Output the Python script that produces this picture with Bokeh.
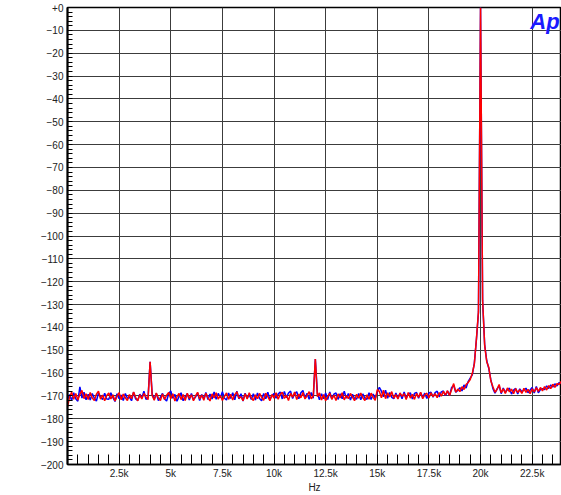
from bokeh.plotting import figure
from bokeh.models import Range1d, FixedTicker, Label
from bokeh.embed import file_html
from bokeh.resources import INLINE
import numpy as np

# FFT bin centres (Hz), 100 Hz spacing
freq_start, freq_stop, freq_step = 0, 24000, 100

red_db = [
    -174.8, -170.6, -168.4, -171.5, -168.9, -171.8, -169.3, -167.6, -171.2, -169.0,
    -171.6, -168.5, -170.9, -172.0, -169.2, -167.9, -171.4, -169.6, -172.1, -169.8,
    -168.7, -171.3, -169.5, -172.2, -170.1, -168.6, -171.7, -169.2, -170.8, -172.0,
    -169.4, -171.2, -168.3, -170.6, -172.1, -169.5, -171.3, -168.9, -170.4, -171.6,
    -155.0, -169.8, -171.9, -168.7, -170.9, -172.0, -169.1, -171.5, -169.7, -168.5,
    -171.2, -169.0, -172.2, -170.3, -168.9, -171.6, -169.4, -172.0, -168.8, -171.1,
    -169.5, -172.1, -170.0, -168.4, -171.3, -169.6, -171.9, -168.8, -170.7, -172.2,
    -169.1, -170.9, -168.6, -171.4, -169.8, -172.0, -170.2, -168.7, -171.5, -169.3,
    -171.8, -169.4, -168.2, -171.0, -170.4, -172.1, -169.0, -171.3, -168.6, -170.8,
    -172.0, -169.5, -171.2, -168.9, -170.6, -171.9, -168.8, -170.3, -172.1, -169.4,
    -170.9, -168.6, -171.4, -169.3, -168.4, -171.1, -169.7, -172.0, -168.9, -170.5,
    -168.3, -171.6, -169.2, -170.8, -168.5, -171.3, -169.9, -168.1, -171.2, -170.0,
    -153.8, -170.3, -168.7, -171.8, -169.4, -172.1, -170.2, -168.8, -171.5, -169.6,
    -172.0, -169.1, -170.9, -168.6, -171.7, -169.8, -171.2, -168.9, -170.5, -172.1,
    -169.3, -171.0, -168.7, -170.8, -172.0, -169.5, -171.4, -168.8, -170.6, -171.9,
    -167.2, -168.0, -170.8, -167.5, -171.2, -168.6, -170.4, -168.1, -171.0, -169.4,
    -171.3, -168.7, -170.2, -169.0, -171.6, -168.5, -170.9, -169.3, -171.5, -168.9,
    -170.6, -168.4, -171.2, -169.5, -168.8, -170.9, -168.6, -170.3, -169.0, -170.8,
    -168.5, -170.1, -168.0, -169.6, -167.7, -169.8, -167.2, -164.6, -168.3, -167.0,
    -168.1, -166.0, -167.2, -165.0, -164.1, -162.8, -160.2, -156.0, -145.0, -133.0,
    0.0, -128.0, -148.0, -155.0, -157.5, -163.5, -166.0, -168.4, -167.1, -165.0,
    -168.6, -166.9, -168.9, -166.5, -168.2, -167.0, -169.0, -166.8, -168.5, -167.3,
    -168.9, -166.7, -168.4, -167.1, -169.0, -166.9, -168.2, -166.4, -168.0, -166.3,
    -167.8, -165.9, -167.4, -165.5, -166.8, -164.9, -166.2, -164.6, -165.0, -163.8,
    -163.5,
]

blue_db = [
    -171.5, -169.4, -172.0, -168.6, -171.2, -172.3, -166.0, -170.9, -168.4, -171.7,
    -169.3, -171.8, -168.9, -171.0, -172.2, -168.7, -170.5, -171.6, -168.8, -171.3,
    -171.5, -168.6, -170.7, -172.4, -169.0, -171.2, -169.6, -172.0, -168.9, -171.0,
    -170.5, -172.1, -168.4, -171.3, -172.0, -169.2, -170.9, -167.9, -171.5, -170.8,
    -155.0, -169.2, -171.4, -168.8, -172.0, -170.6, -168.9, -171.3, -172.2, -169.0,
    -167.8, -171.0, -169.3, -172.3, -170.2, -168.6, -172.1, -170.4, -169.0, -171.8,
    -168.9, -171.6, -170.5, -168.7, -172.0, -169.4, -171.2, -168.5, -171.6, -169.2,
    -171.3, -168.3, -171.5, -168.9, -170.8, -168.2, -171.0, -171.8, -168.7, -171.1,
    -168.6, -171.7, -167.9, -171.3, -169.0, -172.2, -168.8, -171.0, -169.4, -171.5,
    -169.0, -171.8, -168.7, -171.1, -172.1, -168.9, -171.2, -168.4, -171.6, -169.8,
    -168.9, -171.0, -169.2, -168.3, -171.3, -168.0, -170.8, -168.7, -167.9, -171.1,
    -169.0, -168.2, -171.2, -168.6, -167.6, -170.9, -168.8, -171.5, -168.5, -171.0,
    -153.8, -168.8, -171.7, -169.0, -171.2, -168.7, -171.6, -168.3, -171.3, -169.2,
    -168.7, -171.5, -169.0, -171.2, -167.9, -171.0, -168.9, -171.8, -169.3, -171.1,
    -171.3, -168.9, -171.7, -169.1, -171.0, -171.5, -168.6, -171.6, -169.2, -171.0,
    -168.4, -166.2, -167.9, -170.4, -167.5, -171.0, -168.5, -170.6, -171.2, -168.7,
    -171.0, -168.8, -171.2, -168.3, -171.0, -169.2, -168.6, -171.3, -168.9, -168.5,
    -171.0, -168.6, -170.6, -168.8, -171.1, -168.7, -168.4, -170.6, -168.5, -167.9,
    -170.4, -168.2, -167.8, -169.9, -167.9, -169.8, -166.3, -165.4, -168.4, -167.6,
    -166.4, -167.8, -165.2, -166.5, -163.7, -162.2, -160.8, -155.6, -145.4, -133.4,
    0.0, -128.4, -147.6, -154.6, -158.0, -163.0, -166.8, -168.8, -166.9, -165.6,
    -169.0, -166.5, -168.4, -167.3, -166.6, -169.2, -167.4, -166.7, -169.1, -166.9,
    -168.1, -167.5, -166.6, -168.6, -167.4, -166.3, -168.7, -165.9, -168.6, -167.2,
    -166.8, -167.2, -165.6, -166.7, -165.2, -166.1, -164.7, -165.6, -164.2, -164.4,
    -163.2,
]

xtick_vals = [2500, 5000, 7500, 10000, 12500, 15000, 17500, 20000, 22500]
xtick_labels = ["2.5k", "5k", "7.5k", "10k", "12.5k", "15k", "17.5k", "20k", "22.5k"]
ytick_vals = list(range(-200, 1, 10))
ytick_labels = {0: "+0"}

freqs = np.arange(freq_start, freq_stop + 1, freq_step)

FONT = "Liberation Sans"

p = figure(width=561, height=495, output_backend="svg", toolbar_location=None,
           x_range=Range1d(0, 23920), y_range=Range1d(-200, 0),
           min_border_left=67, min_border_right=0, min_border_top=7, min_border_bottom=28)
p.background_fill_color = "white"
p.border_fill_color = "white"
p.outline_line_color = "black"
p.outline_line_width = 1.5

# grids
p.xgrid.ticker = FixedTicker(ticks=xtick_vals)
p.ygrid.ticker = FixedTicker(ticks=ytick_vals)
for g in (p.xgrid, p.ygrid):
    g.grid_line_color = "#3c3c3c"
    g.grid_line_width = 1

# x axis
xa = p.xaxis[0]
xa.ticker = FixedTicker(ticks=xtick_vals, minor_ticks=list(range(0, 24001, 500)))
xa.major_label_overrides = {v: l for v, l in zip(xtick_vals, xtick_labels)}
xa.major_tick_in = 0
xa.major_tick_out = 0
xa.minor_tick_in = 10
xa.minor_tick_out = 0
xa.minor_tick_line_color = "black"
xa.axis_line_color = "black"
xa.axis_line_width = 1.5
xa.major_label_text_font = FONT
xa.major_label_text_font_size = "10px"
xa.major_label_text_color = "#222222"
xa.major_label_standoff = 3
xa.axis_label = "Hz"
xa.axis_label_text_font = FONT
xa.axis_label_text_font_size = "10px"
xa.axis_label_text_font_style = "normal"
xa.axis_label_text_color = "#222222"
xa.axis_label_standoff = 0

# y axis
ya = p.yaxis[0]
ya.ticker = FixedTicker(ticks=ytick_vals, minor_ticks=list(range(-200, 1, 2)))
ya.major_label_overrides = ytick_labels
ya.major_tick_in = 0
ya.major_tick_out = 0
ya.minor_tick_in = 5
ya.minor_tick_out = 0
ya.minor_tick_line_color = "black"
ya.axis_line_color = "black"
ya.axis_line_width = 2
ya.major_label_text_font = FONT
ya.major_label_text_font_size = "10px"
ya.major_label_text_color = "#222222"
ya.major_label_standoff = 4

# traces
p.line(freqs, blue_db, line_color="#0000ff", line_width=1.5)
p.line(freqs, red_db, line_color="#ff0000", line_width=1.5)

# vertical dBFS label
p.add_layout(Label(x=-2660, y=-100, text="d\nB\nF\nS", text_align="center",
                   text_baseline="middle", text_font=FONT, text_font_size="10px",
                   text_color="#222222", text_line_height=1.15))

# Ap logo
p.add_layout(Label(x=23830, y=-0.5, text="Ap", text_align="right", text_baseline="top",
                   text_font=FONT, text_font_style="bold italic", text_font_size="22px",
                   text_color="#1a1aff"))

open("out.html", "w").write(file_html(p, INLINE))
